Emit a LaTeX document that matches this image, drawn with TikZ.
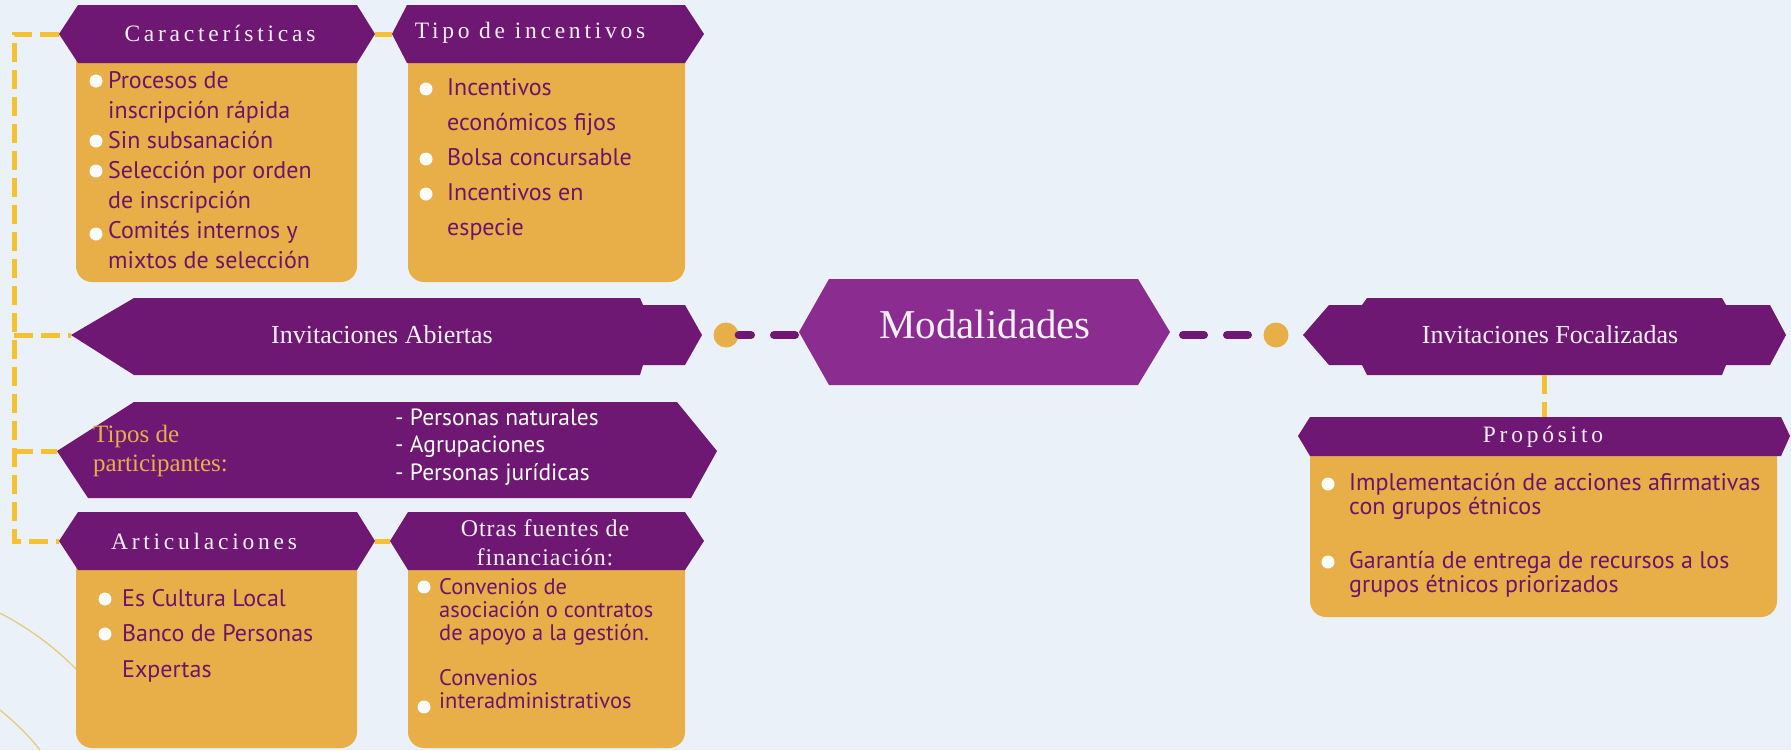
\documentclass[tikz,border=0pt]{standalone}
\usepackage{fontspec}
\setmainfont{Liberation Serif}
\newfontfamily\bodyf{PT Sans}
\newfontfamily\hdrf[LetterSpace=16]{Liberation Serif}
\newfontfamily\hdrg[LetterSpace=4]{Liberation Serif}
\newfontfamily\serf{Liberation Serif}
\definecolor{bg}{RGB}{234,241,248}
\definecolor{purp}{RGB}{110,24,116}
\definecolor{modp}{RGB}{139,44,145}
\definecolor{gold}{RGB}{232,174,72}
\definecolor{ydash}{RGB}{245,192,50}
\definecolor{txtp}{RGB}{108,20,108}
\definecolor{hdrw}{RGB}{248,240,248}
\definecolor{arcc}{RGB}{232,200,130}
\newcommand\myhdr{\hdrf\fontsize{23.5}{27}\selectfont}
\newcommand\mybody{\bodyf\fontsize{24}{28}\selectfont}
\newcommand\mysmall{\bodyf\fontsize{22.5}{25}\selectfont}
\newcommand\mylist{\bodyf\fontsize{23.5}{27}\selectfont}
\newcommand\myser{\serf\fontsize{26}{30}\selectfont}
\tikzset{
  hdrshape/.style={fill=purp},
  bodybox/.style={fill=gold, rounded corners=16pt},
  hdrtext/.style={font=\myhdr, text=hdrw, inner sep=0pt},
  bigtext/.style={font=\myser, text=hdrw, inner sep=0pt},
  bt/.style={font=\mybody, text=txtp, anchor=base west, inner sep=0pt},
  st/.style={font=\mysmall, text=txtp, anchor=base west, inner sep=0pt},
  wt/.style={font=\mylist, text=white, anchor=base west, inner sep=0pt},
  gt/.style={font=\serf\fontsize{25}{29}\selectfont, text=gold, anchor=base west, inner sep=0pt},
  bul/.style={circle, fill=white, inner sep=0pt, minimum size=13pt},
  ycon/.style={draw=ydash, line width=5pt, dash pattern=on 19pt off 8pt},
  pcon/.style={draw=purp, line width=8pt, line cap=round, dash pattern=on 21pt off 23pt},
  dot/.style={circle, fill=gold, inner sep=0pt, minimum size=25pt},
  arcline/.style={draw=arcc, line width=1.3pt}
}
\begin{document}
\begin{tikzpicture}[x=1pt,y=-1pt]
\useasboundingbox (0,0) rectangle (1791,750);
\fill[bg] (0,0) rectangle (1791,750);
% decorative arcs
\draw[arcline] (0,613) .. controls (30,629) and (55,647) .. (80,673);
\draw[arcline] (0,710) .. controls (16,723) and (29,736) .. (40,750);

% ---- Caracteristicas
\fill[bodybox] (76,45) rectangle (357,282);
\fill[hdrshape] (78,5) -- (357,5) -- (375,34) -- (357,63) -- (78,63) -- (59,34) -- cycle;
\coordinate (charW) at (59,34);
\coordinate (charE) at (375,34);
% ---- Tipo de incentivos
\fill[bodybox] (408,45) rectangle (685,282);
\fill[hdrshape] (407,5) -- (685,5) -- (704,34) -- (685,63) -- (407,63) -- (392,34) -- cycle;
\coordinate (tipoW) at (392,34);
% ---- Invitaciones Abiertas
\fill[hdrshape] (134,298) -- (640,298) -- (643,305) -- (685,305) -- (702,335) -- (685,365) -- (643,365) -- (640,375) -- (134,375) -- (71,335) -- cycle;
\coordinate (iaW) at (71,335);
% ---- Tipos de participantes
\fill[hdrshape] (134,402) -- (677,402) -- (717,451) -- (691,498) -- (88,498) -- (57,451) -- cycle;
\coordinate (tpW) at (57,451);
% ---- Articulaciones
\fill[bodybox] (76,550) rectangle (357,748);
\fill[hdrshape] (78,512) -- (357,512) -- (375,541) -- (357,570) -- (78,570) -- (59,541) -- cycle;
\coordinate (artW) at (59,541);
\coordinate (artE) at (375,541);
% ---- Otras fuentes
\fill[bodybox] (408,550) rectangle (685,748);
\fill[hdrshape] (408,512) -- (685,512) -- (704,541) -- (685,570) -- (408,570) -- (390,541) -- cycle;
\coordinate (otW) at (390,541);
% ---- Modalidades
\fill[modp] (829,279) -- (1138,279) -- (1170,332) -- (1138,385) -- (829,385) -- (799,332) -- cycle;
\coordinate (modW) at (795,335);
\coordinate (modE) at (1183,335);
% ---- Invitaciones Focalizadas
\fill[hdrshape] (1367,298) -- (1722,298) -- (1726,305) -- (1770,305) -- (1786,335) -- (1770,365) -- (1726,365) -- (1722,375) -- (1367,375) -- (1362,365) -- (1329,365) -- (1303,335) -- (1329,305) -- (1362,305) -- cycle;
\coordinate (ifS) at (1544,375);
% ---- Proposito
\fill[bodybox] (1310,440) rectangle (1777,617);
\fill[hdrshape] (1310,417) -- (1781,417) -- (1790,436) -- (1781,456) -- (1310,456) -- (1298,436) -- cycle;
\coordinate (prN) at (1544,417);

% ---- connectors
\coordinate (sTop) at (14,34);
\coordinate (sIA) at (14,335);
\coordinate (sTP) at (14,451);
\coordinate (sBot) at (14,541);
\draw[ycon] (charW) -- (sTop) -- (sBot) -- (artW);
\draw[ycon] (sIA) -- (iaW);
\draw[ycon] (sTP) -- (tpW);
\draw[ycon] (charE) -- (tipoW);
\draw[ycon] (artE) -- (otW);
\draw[ycon] (ifS) -- (prN);

\node[dot] (cL) at (726,335) {};
\node[dot] (cR) at (1276,335) {};
\draw[pcon] (modW) -- (cL.east);
\draw[pcon] (modE) -- (cR.west);

% ---- header texts
\node[hdrtext] (tChar) at (220,33) {Características};
\node[hdrtext] (tTipo) at (530,33) {Tipo de incentivos};
\node[hdrtext] (tArt) at (204,541) {Articulaciones};
\node[hdrtext, align=center, font=\hdrg\fontsize{24}{29}\selectfont] (tOt) at (545,543) {Otras fuentes de\\financiación:};
\node[hdrtext] (tPr) at (1543,437) {Propósito};
\node[bigtext] (tIA) at (382,335) {Invitaciones Abiertas};
\node[bigtext] (tIF) at (1550,335) {Invitaciones Focalizadas};
\node[bigtext, font=\serf\fontsize{41}{46}\selectfont] (tMod) at (985,324) {Modalidades};

% ---- Tipos de participantes
\node[gt] (tp1) at (93,442) {Tipos de};
\node[gt] (tp2) at (93,471) {participantes:};
\node[wt] (tp3) at (395,425) {- Personas naturales};
\node[wt] (tp4) at (395,452) {- Agrupaciones};
\node[wt] (tp5) at (395,480) {- Personas jurídicas};

% ---- Caracteristicas body
\node[bul] (cb1) at (96,81) {};
\node[bul] (cb2) at (96,141) {};
\node[bul] (cb3) at (96,171) {};
\node[bul] (cb4) at (96,234) {};
\node[bt] (c1) at (108,88) {Procesos de};
\node[bt] (c2) at (108,118) {inscripción rápida};
\node[bt] (c3) at (108,148) {Sin subsanación};
\node[bt] (c4) at (108,178) {Selección por orden};
\node[bt] (c5) at (108,208) {de inscripción};
\node[bt] (c6) at (108,238) {Comités internos y};
\node[bt] (c7) at (108,268) {mixtos de selección};

% ---- Tipo body
\node[bul] (tb1) at (426,89) {};
\node[bul] (tb2) at (426,159) {};
\node[bul] (tb3) at (426,194) {};
\node[bt] (t1) at (447,95) {Incentivos};
\node[bt] (t2) at (447,130) {económicos fijos};
\node[bt] (t3) at (447,165) {Bolsa concursable};
\node[bt] (t4) at (447,200) {Incentivos en};
\node[bt] (t5) at (447,235) {especie};

% ---- Articulaciones body
\node[bul] (ab1) at (105,599) {};
\node[bul] (ab2) at (105,634) {};
\node[bt] (a1) at (122,606) {Es Cultura Local};
\node[bt] (a2) at (122,641) {Banco de Personas};
\node[bt] (a3) at (122,677) {Expertas};

% ---- Otras body
\node[bul] (ob1) at (424,587) {};
\node[bul] (ob2) at (424,707) {};
\node[st] (o1) at (439,594) {Convenios de};
\node[st] (o2) at (439,617) {asociación o contratos};
\node[st] (o3) at (439,640) {de apoyo a la gestión.};
\node[st] (o4) at (439,685) {Convenios};
\node[st] (o5) at (439,708) {interadministrativos};

% ---- Proposito body
\node[bul] (pb1) at (1328,484) {};
\node[bul] (pb2) at (1328,562) {};
\node[bt] (p1) at (1349,490) {Implementación de acciones afirmativas};
\node[bt] (p2) at (1349,514) {con grupos étnicos};
\node[bt] (p3) at (1349,568) {Garantía de entrega de recursos a los};
\node[bt] (p4) at (1349,592) {grupos étnicos priorizados};
\end{tikzpicture}
\end{document}
